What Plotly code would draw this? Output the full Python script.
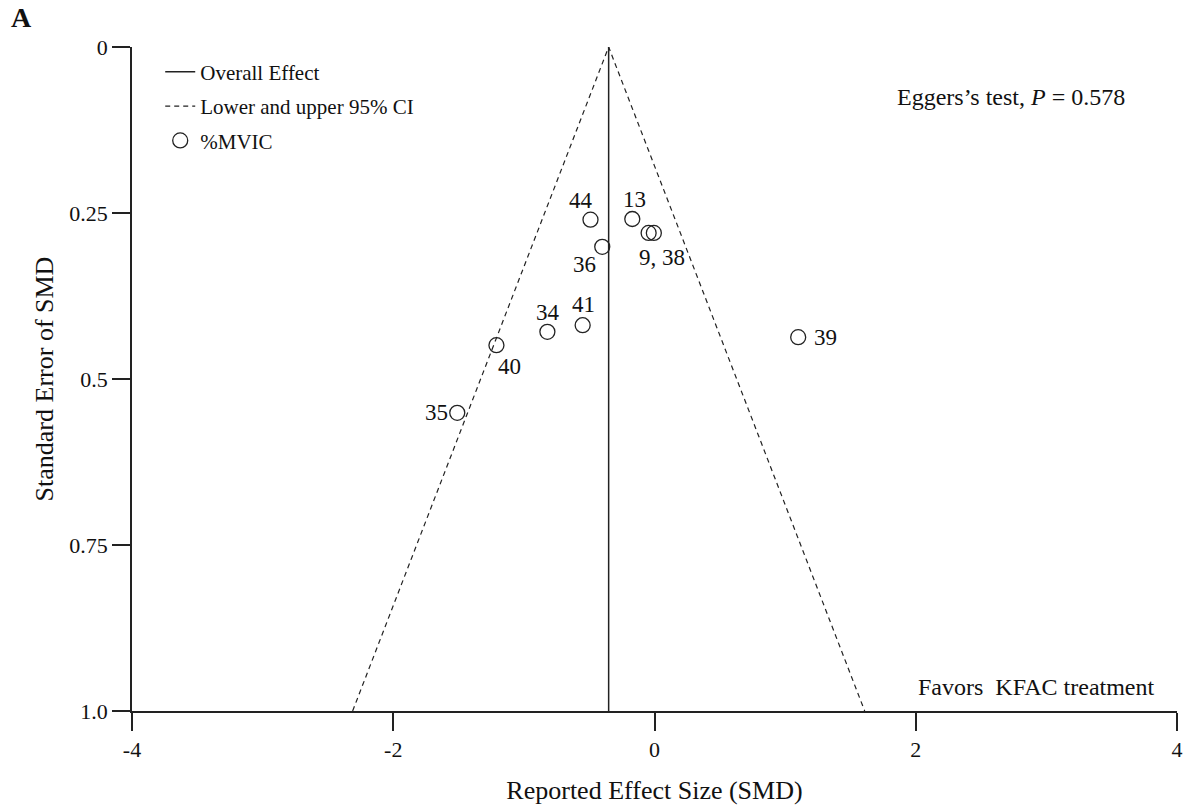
import plotly.graph_objects as go

# Study estimates (standardised mean difference) and their standard errors
studies = ["44", "13", "9", "38", "36", "41", "34", "40", "35", "39"]
smd = [-0.49, -0.17, -0.045, -0.005, -0.40, -0.55, -0.82, -1.21, -1.51, 1.10]
se = [0.260, 0.259, 0.280, 0.280, 0.301, 0.419, 0.429, 0.449, 0.551, 0.437]
point_labels = ["44", "13", "9, 38", "", "36", "41", "34", "40", "35", "39"]

# Pooled effect and funnel limits
pooled = -0.351
z95 = 1.96
funnel_se = [1.0, 0.0, 1.0]

x_ticks = [-4, -2, 0, 2, 4]
y_ticks = [0, 0.25, 0.5, 0.75, 1.0]
y_tick_text = ["0", "0.25", "0.5", "0.75", "1.0"]

# Pixel offsets for the study labels relative to their markers
label_offsets = [(-9, 19), (2, 19), (13, -25), (0, 0), (-18, -18),
                 (1, 21), (1, 19), (13, -21), (-21, 0), (27, 0)]

FONT = "Liberation Serif, Times New Roman, serif"
INK = "#222222"

fig = go.Figure()

fig.add_trace(go.Scatter(
    x=[pooled, pooled], y=[0.0, 1.0], mode="lines",
    line=dict(color=INK, width=1.5),
    name="Overall Effect", legendgroup="a",
))

funnel_x = [pooled - z95 * funnel_se[0], pooled, pooled + z95 * funnel_se[2]]
fig.add_trace(go.Scatter(
    x=funnel_x, y=funnel_se, mode="lines",
    line=dict(color=INK, width=1.2, dash="5px,4px"),
    name="Lower and upper 95% CI", legendgroup="b",
))

fig.add_trace(go.Scatter(
    x=smd, y=se, mode="markers",
    marker=dict(symbol="circle-open", size=15, color=INK, line=dict(width=1.3, color=INK)),
    name="%MVIC", legendgroup="c",
))

for xv, yv, lab, (dx, dy) in zip(smd, se, point_labels, label_offsets):
    if not lab:
        continue
    fig.add_annotation(
        x=xv, y=yv, text=lab, showarrow=False,
        xanchor="center", yanchor="middle", xshift=dx, yshift=dy,
        font=dict(family=FONT, size=23, color="#111111"),
    )

fig.add_annotation(
    xref="paper", yref="paper", x=0.73, y=0.925, text="Eggers\u2019s test, <i>P</i> = 0.578",
    showarrow=False, xanchor="left", yanchor="middle",
    font=dict(family=FONT, size=24, color="#111111"),
)
fig.add_annotation(
    xref="paper", yref="paper", x=0.750, y=0.036, text="Favors\u00a0\u00a0KFAC treatment",
    showarrow=False, xanchor="left", yanchor="middle",
    font=dict(family=FONT, size=24, color="#111111"),
)
fig.add_annotation(
    xref="paper", yref="paper", x=-0.118, y=1.045, text="<b>A</b>",
    showarrow=False, xanchor="left", yanchor="middle",
    font=dict(family=FONT, size=28, color="#111111"),
)

axis_common = dict(
    showgrid=False, zeroline=False, showline=True, linecolor=INK, linewidth=1.5,
    ticks="outside", ticklen=18, tickwidth=1.5, tickcolor=INK,
    tickfont=dict(family=FONT, size=22, color="#111111"),
    title_font=dict(family=FONT, size=26, color="#111111"),
    automargin=False,
)

fig.update_layout(
    width=1195, height=807,
    margin=dict(l=132, r=18, t=47, b=96),
    paper_bgcolor="white", plot_bgcolor="white",
    showlegend=True,
    legend=dict(
        x=0.027, y=0.993, xanchor="left", yanchor="top",
        bgcolor="rgba(0,0,0,0)", tracegroupgap=4,
        font=dict(family=FONT, size=21, color="#111111"),
    ),
    xaxis=dict(
        range=[-4, 4], tickvals=x_ticks, ticktext=[str(v) for v in x_ticks],
        title=dict(text="Reported Effect Size (SMD)", standoff=20),
        **axis_common,
    ),
    yaxis=dict(
        range=[1.0, 0.0], tickvals=y_ticks, ticktext=y_tick_text,
        title=dict(text="Standard Error of SMD", standoff=8),
        **axis_common,
    ),
)

fig.write_html("out.html")
